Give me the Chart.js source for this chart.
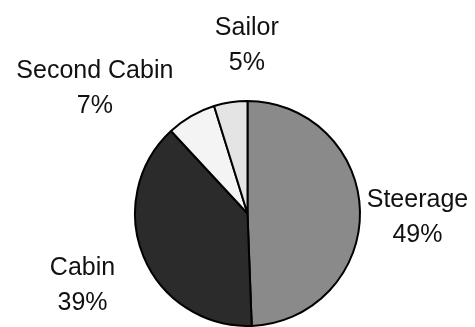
<!DOCTYPE html>
<html lang="en">
<head>
    <meta charset="UTF-8">
    <title>Passenger Classes</title>
    <script src="https://cdn.jsdelivr.net/npm/chart.js"></script>
    <style>
        html, body { margin: 0; padding: 0; background: #fff; }
        #wrap { width: 475px; height: 327px; }
    </style>
</head>
<body>
    <div id="wrap"><canvas id="myChart" width="475" height="327"></canvas></div>

    <script>
        // slice data, clockwise from 12 o'clock (percent of passengers)
        const categories = ['Steerage', 'Cabin', 'Second Cabin', 'Sailor'];
        const shares = [49.4, 38.7, 7.1, 4.8];
        const fills = ['#8a8a8a', '#2b2b2b', '#f4f4f4', '#e4e4e4'];

        // label nudges (px) after placing on the slice's mid angle
        const nudges = [[-1, 5], [-7, 5], [-67, 21], [25, -1]];

        const outsideLabels = {
            id: 'outsideLabels',
            afterDatasetsDraw(chart) {
                const ctx = chart.ctx;
                const meta = chart.getDatasetMeta(0);
                const total = shares.reduce((a, b) => a + b, 0);
                ctx.save();
                ctx.fillStyle = '#111';
                ctx.font = '25px "Liberation Sans", Arial, sans-serif';
                ctx.textAlign = 'center';
                ctx.textBaseline = 'alphabetic';
                meta.data.forEach((arc, i) => {
                    const p = arc.getProps(['x', 'y', 'startAngle', 'endAngle', 'outerRadius'], true);
                    const mid = (p.startAngle + p.endAngle) / 2;
                    const d = p.outerRadius * 1.52;
                    const cx = p.x + Math.cos(mid) * d + nudges[i][0];
                    const cy = p.y + Math.sin(mid) * d + nudges[i][1];
                    const pct = Math.round(shares[i] / total * 100) + '%';
                    ctx.fillText(categories[i], cx, cy - 17.5 + 9);
                    ctx.fillText(pct, cx, cy + 17.5 + 9);
                });
                ctx.restore();
            }
        };

        const ctx = document.getElementById('myChart').getContext('2d');
        new Chart(ctx, {
            type: 'pie',
            data: {
                labels: categories,
                datasets: [{
                    data: shares,
                    backgroundColor: fills,
                    borderColor: '#000',
                    borderWidth: 2
                }]
            },
            options: {
                responsive: false,
                animation: false,
                layout: { padding: { top: 100, bottom: 0, left: 133, right: 113 } },
                plugins: {
                    legend: { display: false },
                    tooltip: { enabled: false }
                }
            },
            plugins: [outsideLabels]
        });
    </script>
</body>
</html>
